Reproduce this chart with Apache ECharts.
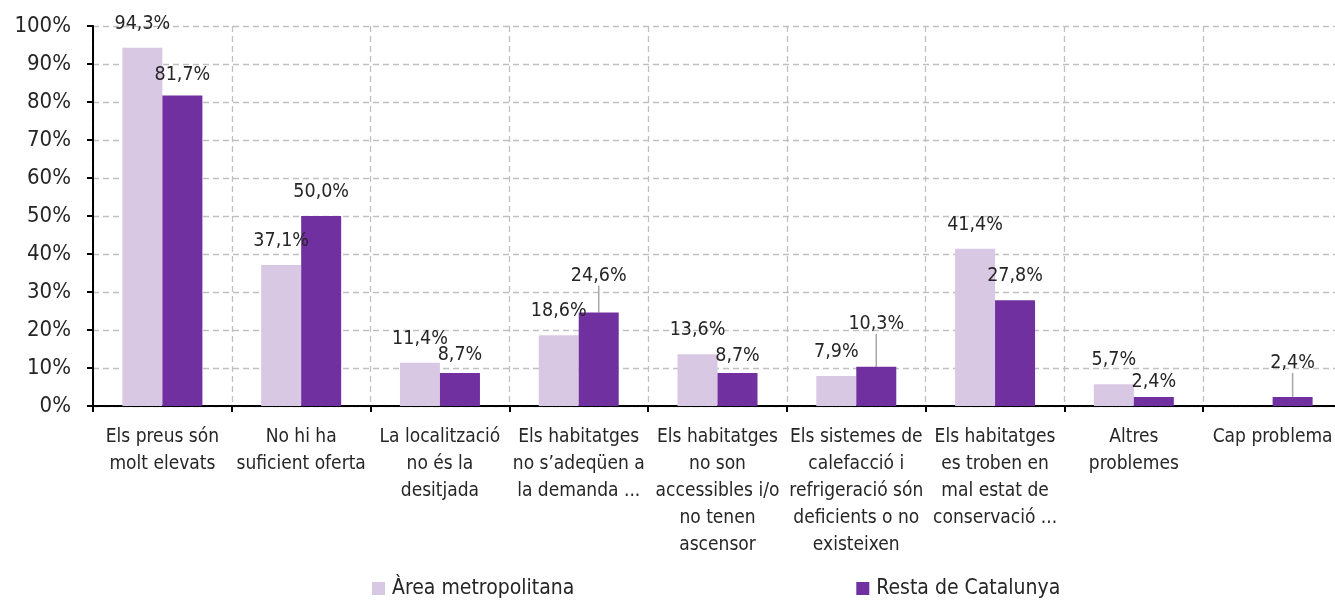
<!DOCTYPE html>
<html>
<head>
<meta charset="utf-8">
<title>Problemes de l'habitatge</title>
<script src="https://cdn.jsdelivr.net/npm/echarts@6/dist/echarts.min.js"></script>
<style>
  html, body { margin: 0; padding: 0; background: #ffffff; }
  #chart { width: 1335px; height: 602px; }
</style>
</head>
<body>
<div id="chart"></div>
<script>
// Categories (line breaks as the wrapped axis labels read)
const categories = [
  "Els preus són\nmolt elevats",
  "No hi ha\nsuficient oferta",
  "La localització\nno és la\ndesitjada",
  "Els habitatges\nno s’adeqüen a\nla demanda ...",
  "Els habitatges\nno son\naccessibles i/o\nno tenen\nascensor",
  "Els sistemes de\ncalefacció i\nrefrigeració són\ndeficients o no\nexisteixen",
  "Els habitatges\nes troben en\nmal estat de\nconservació ...",
  "Altres\nproblemes",
  "Cap problema"
];

const seriesNames = ["Àrea metropolitana", "Resta de Catalunya"];

// Percentages per category
const areaMetropolitana = [94.3, 37.1, 11.4, 18.6, 13.6, 7.9, 41.4, 5.7, null];
const restaCatalunya   = [81.7, 50.0, 8.7, 24.6, 8.7, 10.3, 27.8, 2.4, 2.4];

// Y axis ticks (percent)
const yMin = 0, yMax = 100, yStep = 10;

// Hand-placed label nudges (px, vertical) and which labels get a leader line
const labelNudge = [
  [0, 0, 0, 0, 0, 0, 0, 0, 0],
  [3, 0, 6, -13, 7, -19, 0, 9, -10]
];
const leaderLine = [
  [],
  [3, 5, 8]
];

const FONT = "'DejaVu Sans Condensed', 'Liberation Sans Narrow', sans-serif";
const TEXT = '#262626';
const colors = ['#d9c8e3', '#7030a0'];

function fmt(v) {
  return v.toFixed(1).replace('.', ',') + '%';
}

function buildData(values, si) {
  return values.map((v, i) => {
    if (v === null) return { value: null, label: { show: false } };
    const item = { value: v };
    if (leaderLine[si].indexOf(i) >= 0) {
      item.labelLine = { show: true };
    }
    return item;
  });
}

function makeSeries(values, si) {
  return {
    name: seriesNames[si],
    type: 'bar',
    barWidth: 40,
    barGap: '0%',
    data: buildData(values, si),
    itemStyle: { color: colors[si] },
    label: {
      show: true,
      position: 'top',
      distance: 14,
      fontFamily: FONT,
      fontSize: 19.5,
      lineHeight: 20,
      color: TEXT,
      formatter: p => fmt(p.value)
    },
    labelLine: {
      show: false,
      lineStyle: { color: '#a6a6a6', width: 1.5 }
    },
    labelLayout: p => ({ dy: labelNudge[si][p.dataIndex] || 0 }),
    emphasis: { disabled: true }
  };
}

const chart = echarts.init(document.getElementById('chart'), null, { renderer: 'canvas' });

chart.setOption({
  animation: false,
  backgroundColor: '#ffffff',
  textStyle: { fontFamily: FONT, color: TEXT },
  grid: {
    left: 93, width: 1249, top: 26, height: 380,
    containLabel: false, outerBoundsMode: 'none'
  },
  legend: {
    data: seriesNames,
    left: 372,
    top: 578,
    padding: 0,
    itemWidth: 13,
    itemHeight: 13,
    itemGap: 282,
    icon: 'rect',
    textStyle: { fontFamily: FONT, fontSize: 21, color: TEXT, padding: [0, 0, 0, 2] }
  },
  xAxis: {
    type: 'category',
    data: categories,
    boundaryGap: true,
    axisLine: { show: true, lineStyle: { color: '#000000', width: 2 } },
    axisTick: { show: true, length: 6, lineStyle: { color: '#000000', width: 2 } },
    splitLine: { show: true, lineStyle: { color: '#c0c0c0', width: 1.3, type: [6, 4] } },
    axisLabel: {
      interval: 0,
      margin: 18,
      fontFamily: FONT,
      fontSize: 19,
      lineHeight: 27,
      color: TEXT,
      align: 'center',
      verticalAlign: 'top'
    }
  },
  yAxis: {
    type: 'value',
    min: yMin,
    max: yMax,
    interval: yStep,
    axisLine: { show: true, lineStyle: { color: '#000000', width: 2 } },
    axisTick: { show: true, length: 6, lineStyle: { color: '#000000', width: 2 } },
    splitLine: { show: true, lineStyle: { color: '#c0c0c0', width: 1.3, type: [6, 4] } },
    axisLabel: {
      margin: 22,
      fontFamily: FONT,
      fontSize: 22,
      color: TEXT,
      formatter: v => v + '%'
    }
  },
  series: [makeSeries(areaMetropolitana, 0), makeSeries(restaCatalunya, 1)]
});
</script>
</body>
</html>
